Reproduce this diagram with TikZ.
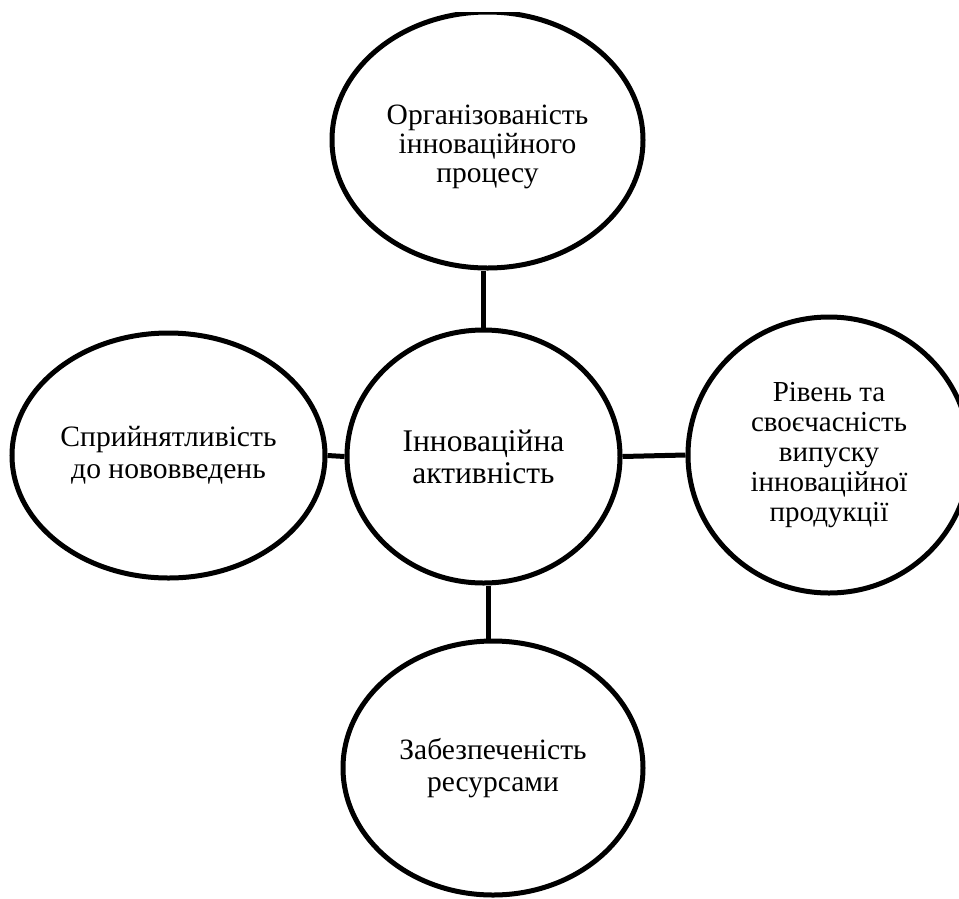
\documentclass[tikz,border=0pt]{standalone}
\usepackage{fontspec}
\setmainfont{Liberation Serif}
\usetikzlibrary{shapes.geometric,calc}
\begin{document}
\begin{tikzpicture}[x=1pt,y=-1pt,
  oval/.style={draw=black,line width=5pt,ellipse,inner sep=0pt,align=center,fill=white},
  link/.style={draw=black,line width=5pt}]
\useasboundingbox (0,0) rectangle (959,898);
\fill[white] (0,0) rectangle (959,898);
\begin{scope}
\clip (0,12) rectangle (959,898);
\node[oval,minimum width=311pt,minimum height=256pt,
  label={[yshift=-7pt,align=center,font=\fontsize{29.5}{29}\selectfont]center:Організованість\\інноваційного\\процесу}] (t) at (487.5,140) {};
\node[oval,minimum width=273pt,minimum height=253pt,font=\fontsize{31.5}{32}\selectfont] (c) at (483.5,456.5) {Інноваційна\\активність};
\node[oval,minimum width=313pt,minimum height=245pt,font=\fontsize{29.6}{32}\selectfont] (l) at (168.5,455.5) {Сприйнятливість\\до нововведень};
\node[oval,minimum width=282pt,minimum height=276pt,font=\fontsize{29}{30}\selectfont] (r) at (829,455) {Рівень та\\своєчасність\\випуску\\інноваційної\\продукції};
\node[oval,minimum width=300pt,minimum height=254pt,font=\fontsize{29.5}{32}\selectfont] (b) at (493,768) {Забезпеченість\\ресурсами};
\coordinate (m) at ($(c.south)!0.5!(b.north)$);
\draw[link] (t.south -| c.north) -- (c.north);
\draw[link] (l.east) -- (c.west);
\draw[link] (c.east) -- (r.west);
\draw[link] (c.south -| m) -- (b.north -| m);
\end{scope}
\end{tikzpicture}
\end{document}
